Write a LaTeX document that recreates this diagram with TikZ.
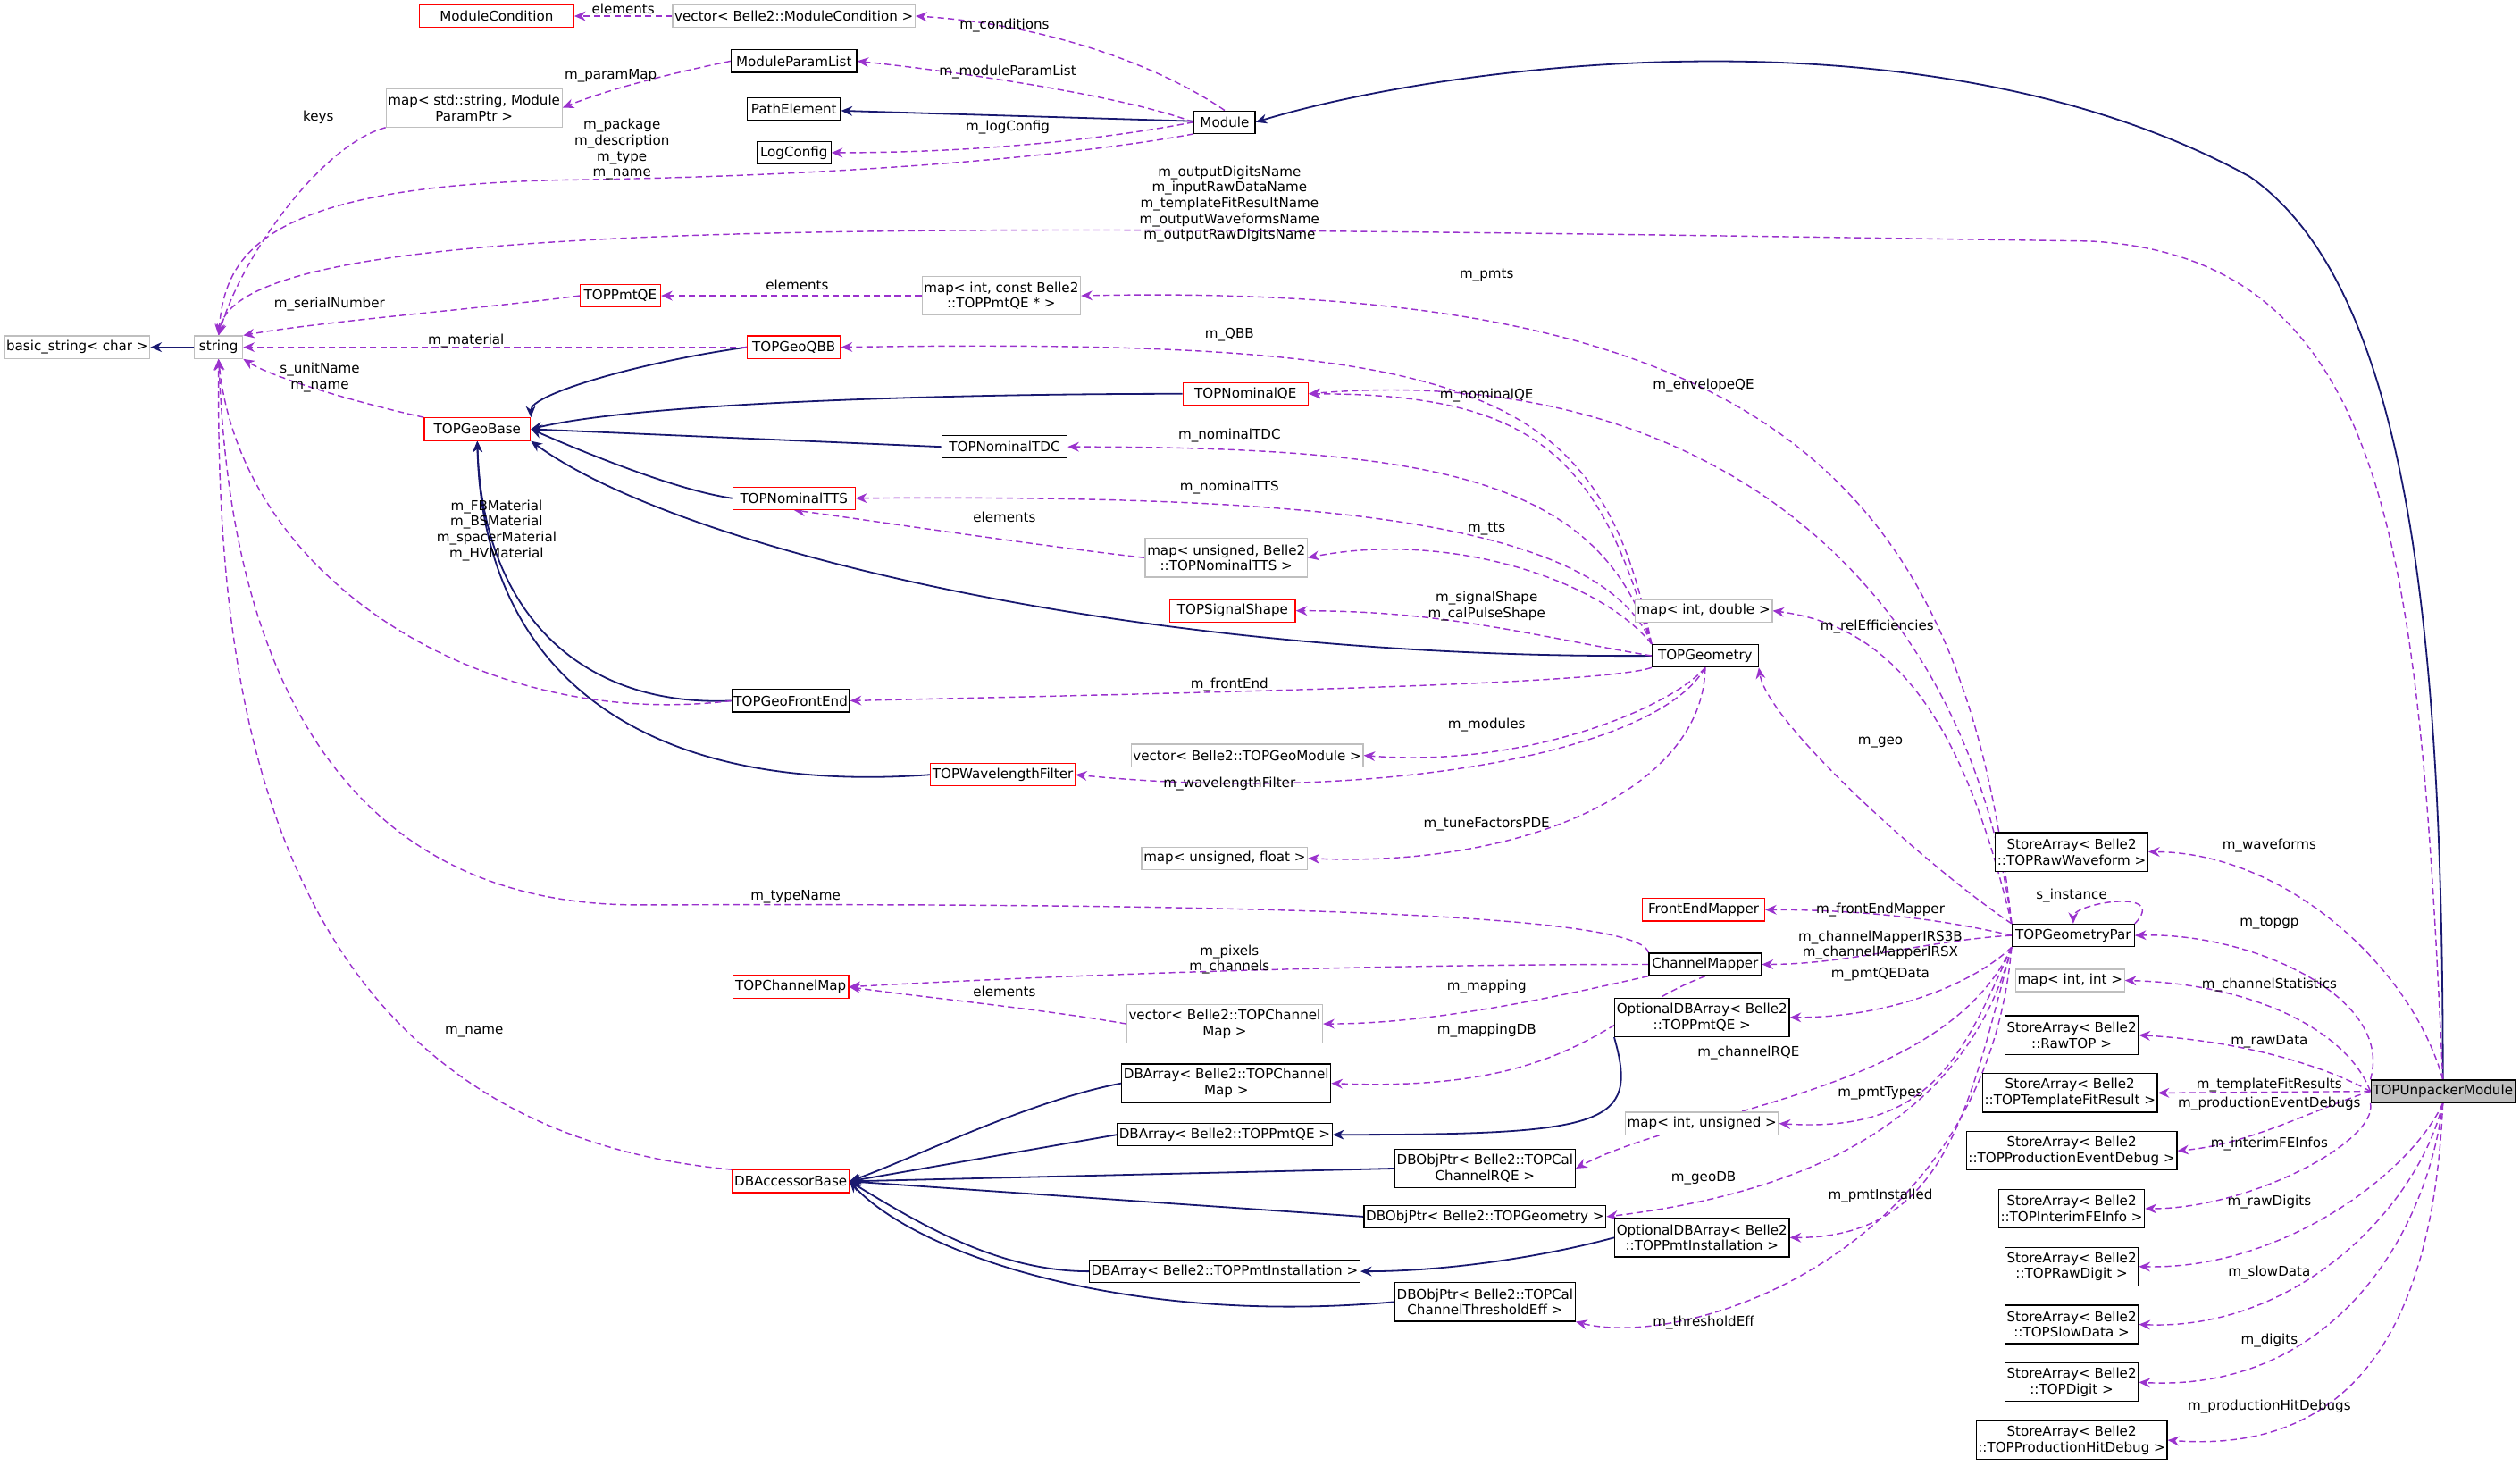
\documentclass[tikz,border=0pt]{standalone}
\usepackage{fontspec}
\setmainfont{DejaVu Sans}
\usetikzlibrary{arrows.meta}
\definecolor{inhc}{HTML}{191970}
\definecolor{usec}{HTML}{9A32CD}
\definecolor{grayb}{HTML}{BFBFBF}
\pgfdeclarelayer{bg}
\pgfsetlayers{bg,main}
\tikzset{
 base/.style={draw, inner sep=0.6pt, minimum height=7pt, align=center, font=\fontsize{4.2}{4.9}\selectfont, line width=0.35pt, fill=white},
 bk/.style={base, draw=black},
 rd/.style={base, draw=red},
 gy/.style={base, draw=grayb},
 tw/.style={minimum height=12pt},
 inh/.style={draw=inhc, line width=0.5pt, -{Stealth[length=3.5pt,width=3pt]}},
 use/.style={draw=usec, line width=0.4pt, dashed, dash pattern=on 2pt off 1.2pt, -{Stealth[length=3.5pt,width=3pt]}},
 lbl/.style={font=\fontsize{4.2}{4.9}\selectfont, align=center, inner sep=0pt}
}
\begin{document}
\begin{tikzpicture}[x=0.5pt,y=-0.5pt]
\useasboundingbox (0,0) rectangle (1568,912);
% nodes
\node[rd, minimum width=48pt] (mc) at (309,10) {ModuleCondition};
\node[gy, minimum width=70pt] (vmc) at (494,10) {vector< Belle2::ModuleCondition >};
\node[bk, minimum width=39pt] (mpl) at (494,38) {ModuleParamList};
\node[gy, tw, minimum width=52pt] (mpp) at (295,67) {map< std::string, Module\\ParamPtr >};
\node[bk, minimum width=29pt] (pe) at (494,68) {PathElement};
\node[bk, minimum width=23pt] (lc) at (494,95) {LogConfig};
\node[bk, minimum width=19pt] (mod) at (762,76) {Module};
\node[gy, minimum width=15pt] (str) at (136,216) {string};
\node[gy, minimum width=43pt] (bs) at (48,216) {basic\_string< char >};
\node[rd, minimum width=25pt] (pqe) at (386,184) {TOPPmtQE};
\node[gy, tw, minimum width=46pt] (pqm) at (623,184) {map< int, const Belle2\\::TOPPmtQE * >};
\node[rd, minimum width=29pt] (qbb) at (494,216) {TOPGeoQBB};
\node[rd, minimum width=39pt] (nqe) at (775,245) {TOPNominalQE};
\node[rd, minimum width=33pt] (gb) at (297,267) {TOPGeoBase};
\node[bk, minimum width=39pt] (tdc) at (625,278) {TOPNominalTDC};
\node[rd, minimum width=38pt] (tts) at (494,310) {TOPNominalTTS};
\node[gy, tw, minimum width=48pt] (ttsm) at (763,347) {map< unsigned, Belle2\\::TOPNominalTTS >};
\node[rd, minimum width=39pt] (ss) at (767,380) {TOPSignalShape};
\node[gy, minimum width=42pt] (mid) at (1060,380) {map< int, double >};
\node[bk, minimum width=33pt] (geo) at (1061,408) {TOPGeometry};
\node[bk, minimum width=36pt] (gfe) at (492,436) {TOPGeoFrontEnd};
\node[gy, minimum width=67pt] (vgm) at (776,470) {vector< Belle2::TOPGeoModule >};
\node[rd, minimum width=44pt] (wf) at (624,482) {TOPWavelengthFilter};
\node[gy, minimum width=48pt] (muf) at (762,534) {map< unsigned, float >};
\node[bk, tw, minimum width=47pt] (sarw) at (1289,530) {StoreArray< Belle2\\::TOPRawWaveform >};
\node[rd, minimum width=38pt] (fem) at (1060,566) {FrontEndMapper};
\node[bk, minimum width=38pt] (tgp) at (1290,582) {TOPGeometryPar};
\node[bk, minimum width=35pt] (cm) at (1061,600) {ChannelMapper};
\node[rd, minimum width=36pt] (tcm) at (492,614) {TOPChannelMap};
\node[gy, tw, minimum width=54pt] (vcm) at (762,637) {vector< Belle2::TOPChannel\\Map >};
\node[gy, minimum width=31pt] (mii) at (1288,610) {map< int, int >};
\node[bk, tw, minimum width=52pt] (oqe) at (1059,633) {OptionalDBArray< Belle2\\::TOPPmtQE >};
\node[bk, tw, minimum width=40pt] (sart) at (1289,644) {StoreArray< Belle2\\::RawTOP >};
\node[bk, tw, minimum width=61pt] (dcm) at (763,674) {DBArray< Belle2::TOPChannel\\Map >};
\node[bk, tw, minimum width=52pt] (satf) at (1288,680) {StoreArray< Belle2\\::TOPTemplateFitResult >};
\node[bk, minimum width=38pt, fill=grayb] (tum) at (1520,679) {TOPUnpackerModule};
\node[gy, minimum width=42pt] (miu) at (1059,699) {map< int, unsigned >};
\node[bk, minimum width=62pt] (dqe) at (762,706) {DBArray< Belle2::TOPPmtQE >};
\node[bk, tw, minimum width=61pt] (saped) at (1289,716) {StoreArray< Belle2\\::TOPProductionEventDebug >};
\node[bk, tw, minimum width=52pt] (rqe) at (924,727) {DBObjPtr< Belle2::TOPCal\\ChannelRQE >};
\node[rd, minimum width=36pt] (dba) at (492,735) {DBAccessorBase};
\node[bk, tw, minimum width=45pt] (safe) at (1289,752) {StoreArray< Belle2\\::TOPInterimFEInfo >};
\node[bk, minimum width=69pt] (dgeo) at (924,757) {DBObjPtr< Belle2::TOPGeometry >};
\node[bk, tw, minimum width=52pt] (opi) at (1059,770) {OptionalDBArray< Belle2\\::TOPPmtInstallation >};
\node[bk, minimum width=73pt] (dpi) at (762,791) {DBArray< Belle2::TOPPmtInstallation >};
\node[bk, tw, minimum width=40pt] (sard) at (1289,788) {StoreArray< Belle2\\::TOPRawDigit >};
\node[bk, tw, minimum width=53pt] (the) at (924,810) {DBObjPtr< Belle2::TOPCal\\ChannelThresholdEff >};
\node[bk, tw, minimum width=40pt] (sasd) at (1289,824) {StoreArray< Belle2\\::TOPSlowData >};
\node[bk, tw, minimum width=40pt] (sad) at (1289,860) {StoreArray< Belle2\\::TOPDigit >};
\node[bk, tw, minimum width=56pt] (saph) at (1289,896) {StoreArray< Belle2\\::TOPProductionHitDebug >};

\begin{pgfonlayer}{bg}
% inheritance
\draw[inh] (tum.north) .. controls (1520,400) and (1500,180) .. (1400,110) .. controls (1200,0) and (900,40) .. (mod.east);
\draw[inh] (mod) -- (pe);
\draw[inh] (str) -- (bs);
\draw[inh] (qbb.west) .. controls (400,225) and (330,245) .. (gb.north east);
\draw[inh] (nqe.west) .. controls (600,245) and (400,250) .. (gb.east);
\draw[inh] (tdc.west) -- (gb.east);
\draw[inh] (tts.west) .. controls (420,305) and (360,280) .. (gb.east);
\draw[inh] (geo.west) .. controls (700,410) and (420,340) .. (gb.south east);
\draw[inh] (gfe.west) .. controls (360,440) and (300,380) .. (gb.south);
\draw[inh] (wf.west) .. controls (400,495) and (300,420) .. (gb.south);
\draw[inh] (dcm.west) .. controls (640,685) and (570,720) .. (dba.east);
\draw[inh] (dqe.west) -- (dba.east);
\draw[inh] (rqe.west) -- (dba.east);
\draw[inh] (dgeo.west) -- (dba.east);
\draw[inh] (dpi.west) .. controls (620,791) and (570,760) .. (dba.east);
\draw[inh] (the.west) .. controls (700,825) and (570,780) .. (dba.east);
\draw[inh] (oqe.south west) .. controls (1020,700) and (1000,706) .. (dqe.east);
\draw[inh] (opi.west) .. controls (960,782) and (900,791) .. (dpi.east);

% usage
\draw[use] (vmc) -- node[lbl, above=0.5pt] {elements} (mc);
\draw[use] (mod.north) .. controls (720,40) and (650,15) .. (vmc.east);
\draw[use] (mod.west) .. controls (700,60) and (600,45) .. (mpl.east);
\draw[use] (mpl.west) .. controls (420,45) and (380,55) .. (mpp.east);
\draw[use] (mpp.south west) .. controls (200,90) and (150,160) .. (str.north);
\draw[use] (mod.west) .. controls (680,88) and (600,95) .. (lc.east);
\draw[use] (mod.south west) .. controls (650,100) and (500,110) .. (350,112) .. controls (160,116) and (140,160) .. (str.north);
\draw[use] (tum.north) .. controls (1505,350) and (1490,160) .. (1300,150) .. controls (600,140) and (150,130) .. (str.north);
\draw[use] (pqe.west) .. controls (300,192) and (200,200) .. (str.north east);
\draw[use] (pqm) -- (pqe);
\draw[use] (tgp.north west) .. controls (1222,300) and (1100,175) .. (pqm.east);
\draw[use] (qbb) -- (str);
\draw[use] (geo.north west) .. controls (995,240) and (920,210) .. (qbb.east);
\draw[use] (gb.north west) .. controls (220,250) and (170,235) .. (str.south east);
\draw[use] (geo.north west) .. controls (995,280) and (950,245) .. (nqe.east);
\draw[use] (tgp.north west) .. controls (1222,350) and (1050,225) .. (nqe.east);
\draw[use] (geo.north west) .. controls (995,300) and (900,278) .. (tdc.east);
\draw[use] (geo.north west) .. controls (995,320) and (800,308) .. (tts.east);
\draw[use] (ttsm.west) .. controls (650,340) and (550,325) .. (tts.south);
\draw[use] (geo.north west) .. controls (995,360) and (900,330) .. (ttsm.east);
\draw[use] (geo.west) .. controls (950,395) and (900,380) .. (ss.east);
\draw[use] (gfe.west) .. controls (300,455) and (150,360) .. (str.south);
\draw[use] (geo.south west) .. controls (1000,425) and (800,430) .. (gfe.east);
\draw[use] (geo.south) .. controls (1040,440) and (950,478) .. (vgm.east);
\draw[use] (geo.south) .. controls (1030,470) and (850,500) .. (wf.east);
\draw[use] (geo.south) .. controls (1060,490) and (950,540) .. (muf.east);
\draw[use] (tgp.north west) .. controls (1222,450) and (1180,390) .. (mid.east);
\draw[use] (tgp.north west) .. controls (1200,540) and (1100,450) .. (geo.south east);
\draw[use] (tum.north) .. controls (1500,600) and (1420,530) .. (sarw.east);
\draw[use] (tgp.north east) .. controls (1350,552) and (1290,562) .. (tgp.north);
\draw[use] (tum.north west) .. controls (1490,620) and (1400,580) .. (tgp.east);
\draw[use] (tgp.west) .. controls (1200,570) and (1150,566) .. (fem.east);
\draw[use] (tgp.west) .. controls (1200,585) and (1150,600) .. (cm.east);
\draw[use] (cm.north west) .. controls (1020,565) and (700,562) .. (400,563) .. controls (150,565) and (140,300) .. (str.south);
\draw[use] (cm.west) .. controls (800,600) and (600,610) .. (tcm.east);
\draw[use] (vcm.west) .. controls (650,628) and (570,620) .. (tcm.east);
\draw[use] (cm.south west) .. controls (990,615) and (900,637) .. (vcm.east);
\draw[use] (cm.south) .. controls (1000,630) and (980,680) .. (dcm.east);
\draw[use] (tum.west) .. controls (1460,640) and (1400,612) .. (mii.east);
\draw[use] (tgp.south west) .. controls (1230,610) and (1180,633) .. (oqe.east);
\draw[use] (tum.west) .. controls (1450,665) and (1400,648) .. (sart.east);
\draw[use] (tgp.south west) .. controls (1210,680) and (1050,690) .. (rqe.east);
\draw[use] (tum.west) -- (satf.east);
\draw[use] (tgp.south west) .. controls (1220,660) and (1200,705) .. (miu.east);
\draw[use] (tum.west) .. controls (1440,690) and (1400,712) .. (saped.east);
\draw[use] (dba.north west) .. controls (150,700) and (135,400) .. (str.south);
\draw[use] (tum.south west) .. controls (1480,710) and (1400,752) .. (safe.east);
\draw[use] (tgp.south west) .. controls (1220,710) and (1100,745) .. (dgeo.east);
\draw[use] (tgp.south west) .. controls (1225,690) and (1210,770) .. (opi.east);
\draw[use] (tum.south) .. controls (1500,730) and (1420,790) .. (sard.east);
\draw[use] (tum.south) .. controls (1505,750) and (1430,828) .. (sasd.east);
\draw[use] (tgp.south west) .. controls (1235,780) and (1050,840) .. (the.south east);
\draw[use] (tum.south) .. controls (1510,770) and (1450,866) .. (sad.east);
\draw[use] (tum.south) .. controls (1515,800) and (1480,906) .. (saph.east);
\end{pgfonlayer}

% labels
\node[lbl] (l1) at (625,16) {m\_conditions};
\node[lbl] (l2) at (627,45) {m\_moduleParamList};
\node[lbl] (l3) at (380,47) {m\_paramMap};
\node[lbl] (l4) at (198,73) {keys};
\node[lbl] (l5) at (627,79) {m\_logConfig};
\node[lbl] (l6) at (387,93) {m\_package\\m\_description\\m\_type\\m\_name};
\node[lbl] (l7) at (765,127) {m\_outputDigitsName\\m\_inputRawDataName\\m\_templateFitResultName\\m\_outputWaveformsName\\m\_outputRawDigitsName};
\node[lbl] (l8) at (205,189) {m\_serialNumber};
\node[lbl] (l9) at (496,177) {elements};
\node[lbl] (l10) at (925,171) {m\_pmts};
\node[lbl] (l11) at (290,212) {m\_material};
\node[lbl] (l12) at (765,208) {m\_QBB};
\node[lbl] (l13) at (199,235) {s\_unitName\\m\_name};
\node[lbl] (l14) at (925,246) {m\_nominalQE};
\node[lbl] (l15) at (1060,240) {m\_envelopeQE};
\node[lbl] (l16) at (765,271) {m\_nominalTDC};
\node[lbl] (l17) at (765,303) {m\_nominalTTS};
\node[lbl] (l18) at (625,322) {elements};
\node[lbl] (l19) at (925,329) {m\_tts};
\node[lbl] (l20) at (925,377) {m\_signalShape\\m\_calPulseShape};
\node[lbl] (l21) at (309,330) {m\_FBMaterial\\m\_BSMaterial\\m\_spacerMaterial\\m\_HVMaterial};
\node[lbl] (l22) at (765,426) {m\_frontEnd};
\node[lbl] (l23) at (925,451) {m\_modules};
\node[lbl] (l24) at (765,488) {m\_wavelengthFilter};
\node[lbl] (l25) at (925,513) {m\_tuneFactorsPDE};
\node[lbl] (l26) at (1168,390) {m\_relEfficiencies};
\node[lbl] (l27) at (1170,462) {m\_geo};
\node[lbl] (l28) at (1412,526) {m\_waveforms};
\node[lbl] (l29) at (1289,557) {s\_instance};
\node[lbl] (l30) at (1412,574) {m\_topgp};
\node[lbl] (l31) at (1170,566) {m\_frontEndMapper};
\node[lbl] (l32) at (1170,588) {m\_channelMapperIRS3B\\m\_channelMapperIRSX};
\node[lbl] (l33) at (495,558) {m\_typeName};
\node[lbl] (l34) at (765,597) {m\_pixels\\m\_channels};
\node[lbl] (l35) at (625,617) {elements};
\node[lbl] (l36) at (925,614) {m\_mapping};
\node[lbl] (l37) at (925,641) {m\_mappingDB};
\node[lbl] (l38) at (1412,613) {m\_channelStatistics};
\node[lbl] (l39) at (1170,606) {m\_pmtQEData};
\node[lbl] (l40) at (1412,648) {m\_rawData};
\node[lbl] (l41) at (1088,655) {m\_channelRQE};
\node[lbl] (l42) at (1412,675) {m\_templateFitResults};
\node[lbl] (l43) at (1170,680) {m\_pmtTypes};
\node[lbl] (l44) at (1412,687) {m\_productionEventDebugs};
\node[lbl] (l45) at (295,642) {m\_name};
\node[lbl] (l46) at (1412,712) {m\_interimFEInfos};
\node[lbl] (l47) at (1060,733) {m\_geoDB};
\node[lbl] (l48) at (1170,744) {m\_pmtInstalled};
\node[lbl] (l49) at (1412,748) {m\_rawDigits};
\node[lbl] (l50) at (1412,792) {m\_slowData};
\node[lbl] (l51) at (1060,823) {m\_thresholdEff};
\node[lbl] (l52) at (1412,834) {m\_digits};
\node[lbl] (l53) at (1412,875) {m\_productionHitDebugs};
\end{tikzpicture}
\end{document}
